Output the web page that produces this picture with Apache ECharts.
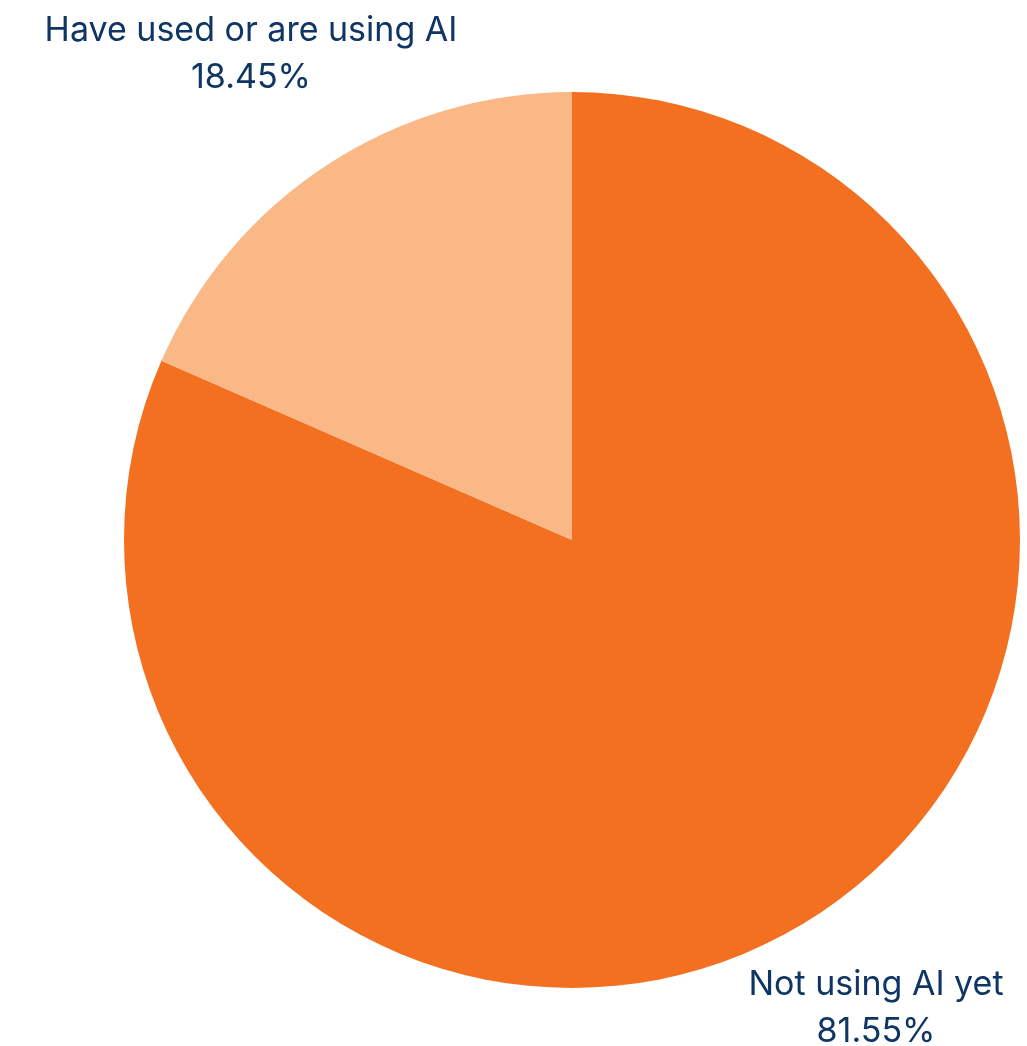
<!DOCTYPE html>
<html>
<head>
<meta charset="utf-8">
<script src="https://cdn.jsdelivr.net/npm/echarts@6/dist/echarts.min.js"></script>
<style>
  html, body { margin: 0; padding: 0; background: #fff; }
  #chart { width: 1027px; height: 1046px; }
</style>
</head>
<body>
<div id="chart"></div>
<script>
// slice names and shares (%)
const categories = ['Not using AI yet', 'Have used or are using AI'];
const shares = [81.55, 18.45];
const sliceColors = ['#F37021', '#F9B886'];
// where each label block sits (centre of the two lines)
const labelSpots = [[876, 1008], [251, 54]];

const chart = echarts.init(document.getElementById('chart'));

const option = {
  animation: false,
  series: [
    {
      type: 'pie',
      center: [572, 540],
      radius: [0, 448],
      startAngle: 90,
      clockwise: true,
      data: categories.map((name, i) => ({
        name: name,
        value: shares[i],
        itemStyle: { color: sliceColors[i] },
      })),
      label: {
        show: true,
        position: 'outside',
        alignTo: 'none',
        formatter: function (p) {
          return p.name + '\n' + p.value.toFixed(2) + '%';
        },
        color: '#0E3563',
        fontFamily: 'Inter',
        fontSize: 34,
        lineHeight: 47,
        align: 'center',
        width: 600,
        overflow: 'none',
      },
      labelLine: { show: false },
      labelLayout: function (params) {
        const spot = labelSpots[params.dataIndex];
        return {
          x: spot[0],
          y: spot[1],
          align: 'center',
          verticalAlign: 'middle',
        };
      },
      emphasis: { disabled: true },
    },
  ],
};

chart.setOption(option);
</script>
</body>
</html>
